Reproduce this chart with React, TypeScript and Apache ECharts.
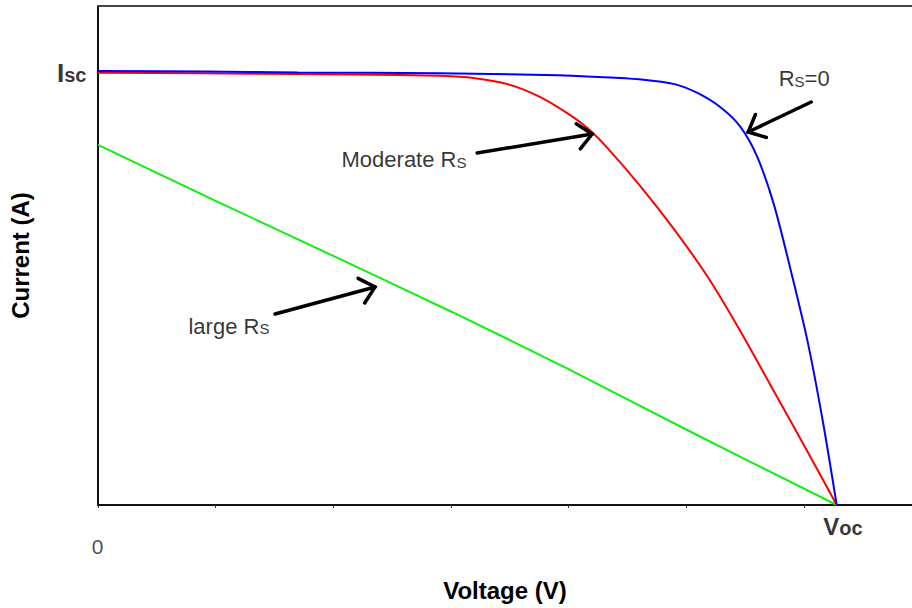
import React, { useEffect, useRef } from "react";
import * as echarts from "echarts";

// Solar cell I-V curves for three series resistances (normalised: Isc = 1)
const V_OC = 0.628;
const I_SC = 1.0;

const V_RS0 = [0, 0.09, 0.17, 0.29, 0.38, 0.43, 0.46, 0.49, 0.51, 0.53, 0.546, 0.56, 0.574, 0.588, 0.603, 0.616, 0.628];
const I_RS0 = [1.0, 0.999, 0.997, 0.995, 0.991, 0.986, 0.981, 0.97, 0.949, 0.915, 0.872, 0.805, 0.698, 0.551, 0.38, 0.196, 0];

const V_MOD = [0, 0.087, 0.172, 0.257, 0.291, 0.319, 0.348, 0.376, 0.404, 0.418, 0.433, 0.461, 0.489, 0.518, 0.546, 0.574, 0.603, 0.628];
const I_MOD = [0.996, 0.995, 0.993, 0.991, 0.989, 0.984, 0.97, 0.94, 0.894, 0.864, 0.823, 0.735, 0.638, 0.527, 0.401, 0.265, 0.124, 0];

const V_LARGE = [0, 0.1, 0.2, 0.3, 0.4, 0.5, 0.628];
const I_LARGE = [0.83, 0.701, 0.574, 0.446, 0.313, 0.174, 0];

// Annotation arrows: [tailV, tailI, tipV, tipI]
const ARROWS = [
  [0.3223, 0.8112, 0.4201, 0.855],
  [0.6063, 0.9288, 0.5527, 0.8596],
  [0.1505, 0.4402, 0.2355, 0.5024],
];

// Annotation text anchors (left edge, vertical middle)
const NOTE_TEXTS = ["{r|Moderate R}{s|S}", "{r|R}{s|S}{r|=0}", "{r|large R}{s|S}"];
const NOTE_POS = [
  [0.2066, 0.7997],
  [0.5782, 0.9864],
  [0.0765, 0.4171],
];

const FONT = "'Liberation Sans', Arial, Helvetica, sans-serif";

const zip = (xs: number[], ys: number[]) => xs.map((x, i) => [x, ys[i]]);

export default function App() {
  const ref = useRef<HTMLDivElement>(null);

  useEffect(() => {
    if (!ref.current) return;
    const chart = echarts.init(ref.current, null, { renderer: "svg" });

    const noteRich = {
      r: { fontFamily: FONT, fontSize: 22, color: "#000", verticalAlign: "bottom", lineHeight: 26 },
      s: { fontFamily: FONT, fontSize: 15, color: "#000", verticalAlign: "bottom", lineHeight: 26, padding: [0, 0, 1, 0] },
    };

    const curve = (name: string, data: number[][], color: string) => ({
      name,
      type: "line",
      data,
      smooth: 0.3,
      symbol: "none",
      lineStyle: { color, width: 2 },
      z: 3,
    });

    chart.setOption({
      animation: false,
      backgroundColor: "#ffffff",
      grid: { left: 98, right: 0, top: 6, bottom: 103, containLabel: false },
      xAxis: [
        {
          type: "value",
          min: 0,
          max: 0.692,
          interval: 0.1,
          axisLine: { show: true, lineStyle: { color: "#111", width: 2 } },
          axisTick: { show: true, length: 3, lineStyle: { color: "#333", width: 1 } },
          axisLabel: { show: false },
          splitLine: { show: false },
          name: "Voltage (V)",
          nameLocation: "middle",
          nameGap: 73,
          nameTextStyle: { fontFamily: FONT, fontSize: 24, fontWeight: "bold", color: "#000" },
        },
        {
          type: "value",
          position: "top",
          min: 0,
          max: 0.692,
          axisLine: { show: true, lineStyle: { color: "#444", width: 2 } },
          axisTick: { show: false },
          axisLabel: { show: false },
          splitLine: { show: false },
        },
      ],
      yAxis: {
        type: "value",
        min: 0,
        max: 1.15,
        axisLine: { show: true, lineStyle: { color: "#111", width: 2 } },
        axisTick: { show: false },
        axisLabel: { show: false },
        splitLine: { show: false },
        name: "Current (A)",
        nameLocation: "middle",
        nameGap: 66,
        nameTextStyle: { fontFamily: FONT, fontSize: 24, fontWeight: "bold", color: "#000" },
      },
      series: [
        curve("Large Rs", zip(V_LARGE, I_LARGE), "#11ee11"),
        curve("Moderate Rs", zip(V_MOD, I_MOD), "#ff0000"),
        curve("Rs=0", zip(V_RS0, I_RS0), "#0000ff"),
        {
          type: "custom",
          name: "arrows",
          coordinateSystem: "cartesian2d",
          clip: false,
          encode: { x: [0, 2], y: [1, 3] },
          data: ARROWS,
          z: 5,
          renderItem: (_params: any, api: any) => {
            const a = api.coord([api.value(0), api.value(1)]);
            const b = api.coord([api.value(2), api.value(3)]);
            const ang = Math.atan2(a[1] - b[1], a[0] - b[0]);
            const len = 19;
            const spread = (42 * Math.PI) / 180;
            const h1 = [b[0] + len * Math.cos(ang + spread), b[1] + len * Math.sin(ang + spread)];
            const h2 = [b[0] + len * Math.cos(ang - spread), b[1] + len * Math.sin(ang - spread)];
            const st = { stroke: "#000", lineWidth: 3.5, lineCap: "round", fill: null };
            return {
              type: "group",
              children: [
                { type: "line", shape: { x1: a[0], y1: a[1], x2: b[0], y2: b[1] }, style: st },
                { type: "polyline", shape: { points: [h1, b, h2] }, style: st },
              ],
            };
          },
        },
        {
          type: "scatter",
          name: "notes",
          symbolSize: 1,
          itemStyle: { color: "transparent" },
          z: 6,
          data: [
            ...NOTE_POS.map((p, i) => ({
              value: p,
              label: {
                show: true,
                position: "right",
                distance: 0,
                formatter: NOTE_TEXTS[i],
                rich: noteRich,
              },
            })),
            {
              value: [0, I_SC],
              label: {
                show: true,
                position: "left",
                distance: 11,
                formatter: "{i|I}{sc|sc}",
                rich: {
                  i: { fontFamily: FONT, fontSize: 26, fontWeight: "bold", color: "#000", verticalAlign: "bottom", lineHeight: 30 },
                  sc: { fontFamily: FONT, fontSize: 20, fontWeight: "bold", color: "#000", verticalAlign: "bottom", lineHeight: 30, padding: [0, 0, 1, 0] },
                },
              },
            },
            {
              value: [V_OC, 0],
              label: {
                show: true,
                position: [-13, 20],
                align: "left",
                verticalAlign: "middle",
                formatter: "{v|V}{oc|oc}",
                rich: {
                  v: { fontFamily: FONT, fontSize: 24, fontWeight: "bold", color: "#000", verticalAlign: "bottom", lineHeight: 28 },
                  oc: { fontFamily: FONT, fontSize: 20, fontWeight: "bold", color: "#000", verticalAlign: "bottom", lineHeight: 28, padding: [0, 0, 1, 0] },
                },
              },
            },
            {
              value: [0, 0],
              label: {
                show: true,
                position: [0, 42],
                align: "center",
                verticalAlign: "middle",
                formatter: "0",
                fontFamily: FONT,
                fontSize: 21,
                color: "#222",
              },
            },
          ],
        },
      ],
    });

    return () => chart.dispose();
  }, []);

  return (
    <div
      ref={ref}
      style={{ position: "fixed", left: 0, top: 0, width: 912, height: 608, background: "#fff" }}
    />
  );
}
